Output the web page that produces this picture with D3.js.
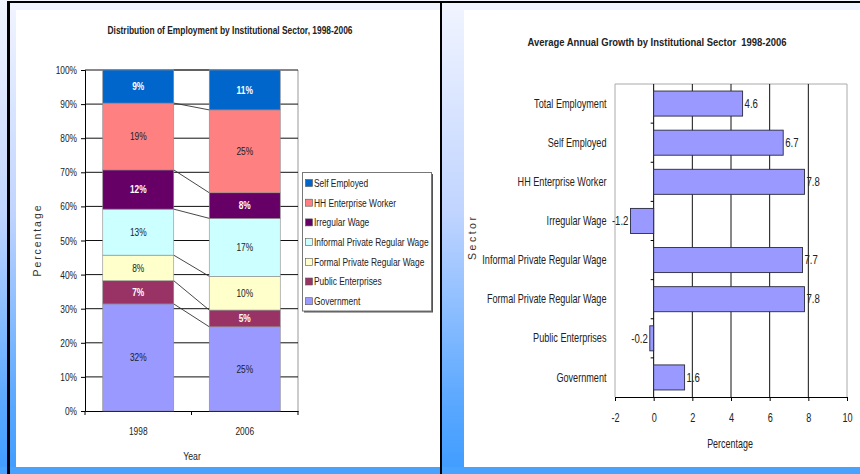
<!DOCTYPE html>
<html>
<head>
<meta charset="utf-8">
<script src="https://cdn.jsdelivr.net/npm/d3@7"></script>
<style>
  body { margin: 0; padding: 0; background: #fff; }
  svg { display: block; }
  text { font-family: "Liberation Sans", Arial, sans-serif; }
</style>
</head>
<body>
<svg id="chart" width="860" height="474"></svg>
<script>
// left chart: share of employment (%), stacked bottom -> top
let years = ["1998", "2006"];
let sectors = ["Government", "Public Enterprises", "Formal Private Regular Wage",
    "Informal Private Regular Wage", "Irregular Wage", "HH Enterprise Worker", "Self Employed"];
let share1998 = [31.4, 6.8, 7.5, 13.5, 11.5, 19.6, 9.7];
let share2006 = [24.7, 4.9, 9.9, 17.0, 7.5, 24.3, 11.7];
let label1998 = ["32%", "7%", "8%", "13%", "12%", "19%", "9%"];
let label2006 = ["25%", "5%", "10%", "17%", "8%", "25%", "11%"];
let sectorColors = ["#9999ff", "#993366", "#ffffcc", "#ccffff", "#660066", "#ff8080", "#0066cc"];
let whiteLabel = ["Public Enterprises", "Irregular Wage", "Self Employed"];
let pctTicks = [0, 10, 20, 30, 40, 50, 60, 70, 80, 90, 100];

// right chart: average annual growth (%)
let growthSectors = ["Total Employment", "Self Employed ", "HH Enterprise Worker", "Irregular Wage",
    "Informal Private Regular Wage", "Formal Private Regular Wage", "Public Enterprises", "Government"];
let growthValues = [4.6, 6.7, 7.8, -1.2, 7.7, 7.8, -0.2, 1.6];
let growthTicks = [-2, 0, 2, 4, 6, 8, 10];

// squeeze text horizontally round its own x, like a narrow font
function narrow(sel, f) {
    sel.each(function() {
        let x = +this.getAttribute("x") || 0;
        d3.select(this).attr("transform", "translate(" + x + ",0) scale(" + f + ",1) translate(" + (-x) + ",0)");
    });
}
let NF = 0.76;

let svg = d3.select("#chart");

// slide background
let defs = svg.append("defs");
let grad = defs.append("linearGradient").attr("id", "bg").attr("x1", 0).attr("y1", 0).attr("x2", 0).attr("y2", 1);
grad.append("stop").attr("offset", "0%").attr("stop-color", "#f2f5ff");
grad.append("stop").attr("offset", "45%").attr("stop-color", "#c0d4ff");
grad.append("stop").attr("offset", "85%").attr("stop-color", "#5aa8ff");
grad.append("stop").attr("offset", "100%").attr("stop-color", "#3f9cff");
svg.append("rect").attr("width", 860).attr("height", 474).attr("fill", "url(#bg)");
svg.append("rect").attr("x", 0).attr("y", 467).attr("width", 860).attr("height", 7).attr("fill", "#4aa2ff");
svg.append("rect").attr("x", 16).attr("y", 10).attr("width", 424).attr("height", 457).attr("fill", "#fff");
svg.append("rect").attr("x", 464).attr("y", 10).attr("width", 396).attr("height", 457).attr("fill", "#fff");
svg.append("line").attr("x1", 7).attr("x2", 860).attr("y1", 2).attr("y2", 2).attr("stroke", "#000").attr("stroke-width", 2);
svg.append("line").attr("x1", 8.5).attr("x2", 8.5).attr("y1", 1).attr("y2", 474).attr("stroke", "#000").attr("stroke-width", 3);
svg.append("line").attr("x1", 441).attr("x2", 441).attr("y1", 1).attr("y2", 474).attr("stroke", "#000").attr("stroke-width", 2);

// ---------- left: stacked 100% bars ----------
let left = svg.append("g");
let rows = years.map(function(yr, j) {
    let r = { year: yr };
    sectors.forEach(function(s, i) { r[s] = j == 0 ? share1998[i] : share2006[i]; });
    return r;
});
let labels = { "1998": label1998, "2006": label2006 };
let stacked = d3.stack().keys(sectors)(rows);

let xL = d3.scaleBand().domain(years).range([85, 298]).paddingInner(1 / 3).paddingOuter(1 / 6);
let yL = d3.scaleLinear().domain([0, 100]).range([411, 70]);

left.append("text").attr("x", 230).attr("y", 34).attr("text-anchor", "middle")
    .style("font-size", "11px").style("font-weight", "bold").style("fill", "#222")
    .attr("textLength", 245).attr("lengthAdjust", "spacingAndGlyphs")
    .text("Distribution of Employment by Institutional Sector, 1998-2006");

left.append("line").attr("x1", 298).attr("x2", 298).attr("y1", 70).attr("y2", 411).attr("stroke", "#999");
left.selectAll(".gridL").data(pctTicks.slice(1)).enter().append("line")
    .attr("x1", 85).attr("x2", 298)
    .attr("y1", function(d) { return yL(d); }).attr("y2", function(d) { return yL(d); })
    .attr("stroke", "#111").attr("stroke-width", 1);

let yAxisL = left.append("g").attr("transform", "translate(85,0)")
    .call(d3.axisLeft(yL).tickValues(pctTicks).tickSize(4).tickPadding(4).tickFormat(function(d) { return d + "%"; }));
yAxisL.select(".domain").attr("stroke", "#000");
yAxisL.selectAll("text").style("font-size", "11px").style("fill", "#222").call(narrow, NF);

let xAxisL = left.append("g").attr("transform", "translate(0,411)")
    .call(d3.axisBottom(xL).tickSize(0).tickPadding(16));
xAxisL.select(".domain").attr("stroke", "#000");
xAxisL.selectAll("text").style("font-size", "11px").style("fill", "#222").call(narrow, NF);
left.selectAll(".xtickL").data([85, 298]).enter().append("line")
    .attr("x1", function(d) { return d; }).attr("x2", function(d) { return d; })
    .attr("y1", 411).attr("y2", 415).attr("stroke", "#000");
left.append("line").attr("x1", (xL("1998") + xL.bandwidth() + xL("2006")) / 2)
    .attr("x2", (xL("1998") + xL.bandwidth() + xL("2006")) / 2)
    .attr("y1", 411).attr("y2", 415).attr("stroke", "#000");

left.append("text").attr("x", 192).attr("y", 460).attr("text-anchor", "middle")
    .style("font-size", "11.5px").style("fill", "#222").text("Year").call(narrow, NF);
left.append("text").attr("transform", "translate(41,241) rotate(-90)").attr("text-anchor", "middle")
    .style("font-size", "10.5px").style("fill", "#333")
    .attr("textLength", 71).attr("lengthAdjust", "spacing")
    .text("Percentage");

// series lines between the bars
stacked.forEach(function(s) {
    left.append("line")
        .attr("x1", xL("1998") + xL.bandwidth()).attr("y1", yL(s[0][1]))
        .attr("x2", xL("2006")).attr("y2", yL(s[1][1]))
        .attr("stroke", "#333").attr("stroke-width", 0.9);
});

let layers = left.selectAll(".layer").data(stacked).enter().append("g")
    .attr("fill", function(d, i) { return sectorColors[i]; });
layers.selectAll("rect").data(function(d) { return d; }).enter().append("rect")
    .attr("x", function(d) { return xL(d.data.year); })
    .attr("width", xL.bandwidth())
    .attr("y", function(d) { return yL(d[1]); })
    .attr("height", function(d) { return yL(d[0]) - yL(d[1]); })
    .attr("stroke", "#8a8a8a").attr("stroke-width", 0.6);

stacked.forEach(function(s, i) {
    s.forEach(function(d) {
        let isWhite = whiteLabel.indexOf(s.key) >= 0;
        left.append("text")
            .attr("x", xL(d.data.year) + xL.bandwidth() / 2)
            .attr("y", (yL(d[0]) + yL(d[1])) / 2)
            .attr("dy", "0.35em").attr("text-anchor", "middle")
            .style("font-size", "11px")
            .style("fill", isWhite ? "#fff" : "#222")
            .style("font-weight", isWhite ? "bold" : "normal")
            .text(labels[d.data.year][i])
            .call(narrow, NF);
    });
});

// legend
let legend = left.append("g");
legend.append("rect").attr("x", 304).attr("y", 174).attr("width", 129).attr("height", 138.5).attr("fill", "#555");
legend.append("rect").attr("x", 302.5).attr("y", 172.5).attr("width", 129).attr("height", 138.5)
    .attr("fill", "#fff").attr("stroke", "#777");
let legendOrder = sectors.slice().reverse();
legend.selectAll(".sw").data(legendOrder).enter().append("rect")
    .attr("x", 305.5).attr("y", function(d, i) { return 179.5 + i * 19.7; })
    .attr("width", 7).attr("height", 7)
    .attr("fill", function(d) { return sectorColors[sectors.indexOf(d)]; })
    .attr("stroke", "#555").attr("stroke-width", 0.6);
legend.selectAll(".lt").data(legendOrder).enter().append("text")
    .attr("x", 314).attr("y", function(d, i) { return 183 + i * 19.7; })
    .attr("dy", "0.35em").style("font-size", "11px").style("fill", "#222")
    .text(function(d) { return d; })
    .call(narrow, 0.765);

// ---------- right: horizontal bars ----------
let right = svg.append("g");
let xR = d3.scaleLinear().domain([-2, 10]).range([615, 847]);
let yR = d3.scaleBand().domain(growthSectors).range([84, 397]).paddingInner(0.36).paddingOuter(0.18);

right.append("text").attr("x", 657).attr("y", 46).attr("text-anchor", "middle")
    .style("font-size", "11px").style("font-weight", "bold").style("fill", "#222")
    .style("white-space", "pre")
    .attr("textLength", 259).attr("lengthAdjust", "spacingAndGlyphs")
    .text("Average Annual Growth by Institutional Sector  1998-2006");

right.append("path").attr("d", "M615,397V84H847V397").attr("fill", "none").attr("stroke", "#aaa");
right.selectAll(".gridR").data([2, 4, 6, 8]).enter().append("line")
    .attr("x1", function(d) { return xR(d); }).attr("x2", function(d) { return xR(d); })
    .attr("y1", 84).attr("y2", 397).attr("stroke", "#111");

let xAxisR = right.append("g").attr("transform", "translate(0,397)")
    .call(d3.axisBottom(xR).tickValues(growthTicks).tickSize(4).tickPadding(12)
        .tickFormat(function(d) { return String(d); }));
xAxisR.select(".domain").attr("stroke", "#000");
xAxisR.selectAll("text").style("font-size", "12px").style("fill", "#222").call(narrow, NF);

// category axis at zero
right.append("line").attr("x1", xR(0)).attr("x2", xR(0)).attr("y1", 84).attr("y2", 397).attr("stroke", "#000");
right.selectAll(".catTick").data(growthSectors.slice(1)).enter().append("line")
    .attr("x1", xR(0) - 3).attr("x2", xR(0))
    .attr("y1", function(d) { return yR(d) - yR.step() * yR.paddingInner() / 2; })
    .attr("y2", function(d) { return yR(d) - yR.step() * yR.paddingInner() / 2; })
    .attr("stroke", "#000");

right.selectAll(".bar").data(growthSectors).enter().append("rect")
    .attr("x", function(d, i) { return xR(Math.min(0, growthValues[i])); })
    .attr("y", function(d) { return yR(d); })
    .attr("width", function(d, i) { return Math.abs(xR(growthValues[i]) - xR(0)); })
    .attr("height", yR.bandwidth())
    .attr("fill", "#9999ff").attr("stroke", "#2a2a40").attr("stroke-width", 0.9);

right.selectAll(".val").data(growthSectors).enter().append("text")
    .attr("x", function(d, i) { return growthValues[i] >= 0 ? xR(growthValues[i]) + 2 : xR(growthValues[i]) - 2; })
    .attr("y", function(d) { return yR(d) + yR.bandwidth() / 2; })
    .attr("dy", "0.35em")
    .attr("text-anchor", function(d, i) { return growthValues[i] >= 0 ? "start" : "end"; })
    .style("font-size", "12px").style("fill", "#222")
    .text(function(d, i) { return growthValues[i]; })
    .call(narrow, 0.8);

right.selectAll(".cat").data(growthSectors).enter().append("text")
    .attr("x", 606.5).attr("y", function(d) { return yR(d) + yR.bandwidth() / 2; })
    .attr("dy", "0.35em").attr("text-anchor", "end")
    .style("font-size", "12px").style("fill", "#222")
    .text(function(d) { return d; })
    .call(narrow, NF);

right.append("text").attr("x", 730).attr("y", 448).attr("text-anchor", "middle")
    .style("font-size", "12px").style("fill", "#222").text("Percentage").call(narrow, 0.745);
right.append("text").attr("transform", "translate(476,238.5) rotate(-90)").attr("text-anchor", "middle")
    .style("font-size", "10.5px").style("fill", "#333")
    .attr("textLength", 43).attr("lengthAdjust", "spacing")
    .text("Sector");
</script>
</body>
</html>
